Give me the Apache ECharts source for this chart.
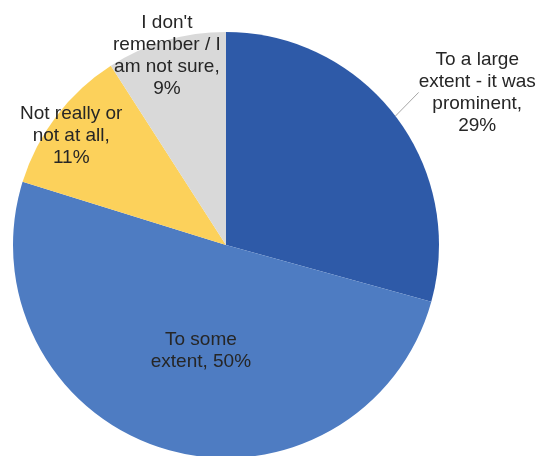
<!DOCTYPE html>
<html>
<head>
<meta charset="utf-8">
<script src="https://cdn.jsdelivr.net/npm/echarts@6/dist/echarts.min.js"></script>
<style>
  html, body { margin: 0; padding: 0; background: #ffffff; }
  #chart { width: 539px; height: 456px; }
</style>
</head>
<body>
<div id="chart"></div>
<script>
// Survey answers, clockwise from 12 o'clock
const categories = [
  'To a large extent - it was prominent',
  'To some extent',
  'Not really or not at all',
  "I don't remember / I am not sure"
];
const values = [29, 50, 11, 9];

// Wrapped label text and the separator placed before the percentage
const labelNames = [
  'To a large\nextent - it was\nprominent,',
  'To some\nextent,',
  'Not really or\nnot at all,',
  "I don't\nremember / I\nam not sure,"
];
const valueSeparators = ['\n', ' ', '\n', '\n'];

const sliceColors = ['#2e5aa8', '#4e7cc2', '#fcd15b', '#d9d9d9'];

// Label placement: fraction of radius along the slice's mid-angle, plus a small angular nudge (deg)
const labelRadiusFrac = [1.38, 0.51, 0.89, 0.93];
const labelAngleNudge = [6, -3, -2, -1];

const PIE_CX = 226, PIE_CY = 245, PIE_R = 213;

const total = values.reduce((a, b) => a + b, 0);
const midAngles = [];
(function () {
  let acc = 0;
  values.forEach(v => {
    midAngles.push((acc + v / 2) / total * 360);
    acc += v;
  });
})();

const chart = echarts.init(document.getElementById('chart'), null, { renderer: 'canvas' });

chart.setOption({
  animation: false,
  backgroundColor: '#ffffff',
  series: [{
    type: 'pie',
    center: [PIE_CX, PIE_CY],
    radius: PIE_R,
    startAngle: 90,
    clockwise: true,
    silent: true,
    itemStyle: { borderWidth: 0 },
    data: categories.map((name, i) => ({
      name: name,
      value: values[i],
      itemStyle: { color: sliceColors[i] },
      label: { position: i === 0 ? 'outside' : 'inside' },
      labelLine: { show: i === 0 }
    })),
    label: {
      show: true,
      formatter: p => labelNames[p.dataIndex] + valueSeparators[p.dataIndex] + p.value + '%',
      fontFamily: 'Liberation Sans, Arial, sans-serif',
      fontSize: 19,
      lineHeight: 22,
      color: '#262626',
      align: 'center'
    },
    labelLine: {
      length: 12,
      length2: 0,
      lineStyle: { color: '#a6a6a6', width: 1 }
    },
    labelLayout: function (params) {
      const i = params.dataIndex;
      const a = (midAngles[i] + labelAngleNudge[i]) * Math.PI / 180;
      const d = labelRadiusFrac[i] * PIE_R;
      return {
        x: PIE_CX + d * Math.sin(a),
        y: PIE_CY - d * Math.cos(a),
        align: 'center',
        verticalAlign: 'middle'
      };
    }
  }]
});
</script>
</body>
</html>
